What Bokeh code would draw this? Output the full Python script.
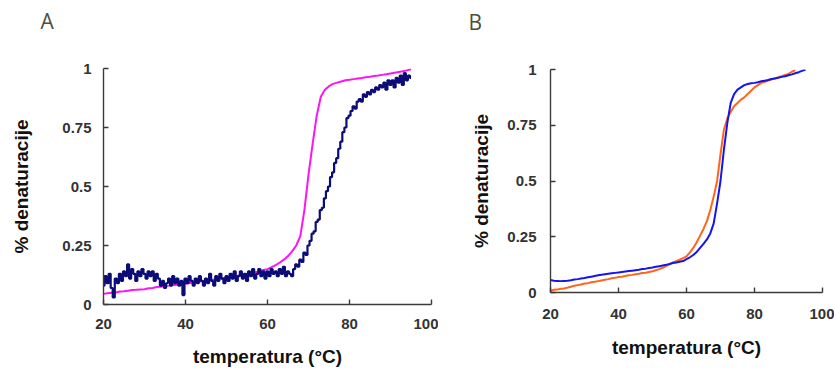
from bokeh.plotting import figure
from bokeh.layouts import row
from bokeh.models import Range1d, FixedTicker, CustomJSTickFormatter, Title
from bokeh.embed import file_html
from bokeh.resources import INLINE

# ---------------- data ----------------
x_ticks = [20, 40, 60, 80, 100]
y_ticks = [0, 0.25, 0.5, 0.75, 1]
x_title = "temperatura (°C)"
y_title = "% denaturacije"
panel_letters = ["A", "B"]

# Panel A, navy (noisy) - 0.5 °C sampling
a_navy_t = [20.0, 20.5, 21.0, 21.5, 22.0, 22.5, 23.0, 23.5, 24.0, 24.5, 25.0, 25.5, 26.0, 26.5, 27.0, 27.5,
            28.0, 28.5, 29.0, 29.5, 30.0, 30.5, 31.0, 31.5, 32.0, 32.5, 33.0, 33.5, 34.0, 34.5, 35.0, 35.5,
            36.0, 36.5, 37.0, 37.5, 38.0, 38.5, 39.0, 39.5, 40.0, 40.5, 41.0, 41.5, 42.0, 42.5, 43.0, 43.5,
            44.0, 44.5, 45.0, 45.5, 46.0, 46.5, 47.0, 47.5, 48.0, 48.5, 49.0, 49.5, 50.0, 50.5, 51.0, 51.5,
            52.0, 52.5, 53.0, 53.5, 54.0, 54.5, 55.0, 55.5, 56.0, 56.5, 57.0, 57.5, 58.0, 58.5, 59.0, 59.5,
            60.0, 60.5, 61.0, 61.5, 62.0, 62.5, 63.0, 63.5, 64.0, 64.5, 65.0, 65.5, 66.0, 66.5, 67.0, 67.5,
            68.0, 68.5, 69.0, 69.5, 70.0, 70.5, 71.0, 71.5, 72.0, 72.5, 73.0, 73.5, 74.0, 74.5, 75.0, 75.5,
            76.0, 76.5, 77.0, 77.5, 78.0, 78.5, 79.0, 79.5, 80.0, 80.5, 81.0, 81.5, 82.0, 82.5, 83.0, 83.5,
            84.0, 84.5, 85.0, 85.5, 86.0, 86.5, 87.0, 87.5, 88.0, 88.5, 89.0, 89.5, 90.0, 90.5, 91.0, 91.5,
            92.0, 92.5, 93.0, 93.5, 94.0, 94.5, 95.0]
a_navy_v = [0.08, 0.12, 0.09, 0.13, 0.07, 0.03, 0.11, 0.09, 0.13, 0.10, 0.14, 0.12, 0.17, 0.11, 0.15, 0.13,
            0.10, 0.14, 0.12, 0.15, 0.13,
            0.11, 0.14, 0.12, 0.14, 0.10, 0.13, 0.11, 0.08, 0.10, 0.07, 0.09, 0.11, 0.08, 0.12, 0.09, 0.11,
            0.08, 0.10, 0.04, 0.11,
            0.09, 0.12, 0.10, 0.08, 0.11, 0.09, 0.12, 0.10, 0.08, 0.11, 0.09, 0.13, 0.10, 0.08, 0.12, 0.10,
            0.13, 0.11, 0.09, 0.12,
            0.10, 0.13, 0.11, 0.14, 0.10, 0.12, 0.14, 0.11, 0.13, 0.10, 0.14, 0.12, 0.15, 0.11, 0.13, 0.15,
            0.12, 0.14, 0.11, 0.14,
            0.12, 0.15, 0.13, 0.14, 0.12, 0.15, 0.13, 0.16, 0.12, 0.14, 0.13, 0.12, 0.15, 0.17, 0.16, 0.19,
            0.18, 0.22, 0.21, 0.25,
            0.27, 0.30, 0.31, 0.35, 0.36, 0.40, 0.41, 0.45, 0.48, 0.50, 0.54, 0.56, 0.60, 0.62, 0.66, 0.69,
            0.73, 0.75, 0.79, 0.80,
            0.82, 0.84, 0.83, 0.86, 0.87, 0.86, 0.89, 0.88, 0.90, 0.89, 0.91, 0.90, 0.92, 0.91, 0.93, 0.92,
            0.94, 0.91, 0.95, 0.93,
            0.95, 0.92, 0.96, 0.94, 0.97, 0.93, 0.98, 0.95, 0.97, 0.96]

# Panel A, magenta - 1 °C sampling
a_mag_t = [20, 21, 22, 23, 24, 25, 26, 27, 28, 29, 30, 31, 32, 33, 34, 35, 36, 37, 38, 39, 40, 41, 42, 43,
           44, 45, 46, 47, 48, 49, 50, 51, 52, 53, 54, 55, 56, 57, 58, 59, 60, 61, 62, 63, 64, 65, 66, 67,
           68, 69, 70, 71, 72, 73, 74, 75, 76, 77, 78, 79, 80, 81, 82, 83, 84, 85, 86, 87, 88, 89, 90, 91,
           92, 93, 94, 95]
a_mag_v = [0.045, 0.048, 0.050, 0.051, 0.055, 0.056, 0.058, 0.061, 0.062, 0.064, 0.065, 0.069, 0.070, 0.074,
           0.075, 0.078, 0.080, 0.083, 0.084, 0.087, 0.088, 0.091, 0.093, 0.096, 0.098, 0.101, 0.103, 0.106,
           0.108, 0.111, 0.113, 0.117, 0.119, 0.123, 0.125, 0.129, 0.132, 0.137, 0.140, 0.146, 0.150, 0.158,
           0.167, 0.178, 0.190, 0.205, 0.225, 0.250, 0.290, 0.400, 0.550, 0.680, 0.800, 0.880, 0.910, 0.925,
           0.935, 0.940, 0.945, 0.950, 0.952, 0.955, 0.958, 0.960, 0.963, 0.965, 0.968, 0.970, 0.973, 0.976,
           0.979, 0.982, 0.985, 0.988, 0.992, 0.997]

# Panel B, orange
b_org_t = [20, 21, 22, 23, 24, 25, 26, 27, 28, 29, 30, 31, 32, 33, 34, 35, 36, 37, 38, 39, 40, 41, 42, 43,
           44, 45, 46, 47, 48, 49, 50, 51, 52, 53, 54, 55, 56, 57, 58, 59, 60, 61, 62, 63, 64, 65, 66, 67,
           68, 69, 70, 71, 72, 73, 74, 75, 76, 77, 78, 79, 80, 81, 82, 83, 84, 85, 86, 87, 88, 89, 90, 91,
           92]
b_org_v = [0.008, 0.012, 0.013, 0.017, 0.018, 0.022, 0.026, 0.030, 0.033, 0.036, 0.040, 0.042, 0.046, 0.048,
           0.051, 0.054, 0.057, 0.060, 0.064, 0.066, 0.069, 0.071, 0.074, 0.077, 0.079, 0.082, 0.084, 0.087,
           0.089, 0.092, 0.095, 0.100, 0.105, 0.111, 0.118, 0.126, 0.135, 0.141, 0.147, 0.154, 0.162, 0.180,
           0.200, 0.225, 0.255, 0.285, 0.320, 0.370, 0.430, 0.500, 0.620, 0.730, 0.780, 0.810, 0.835, 0.850,
           0.865, 0.875, 0.890, 0.905, 0.920, 0.930, 0.940, 0.945, 0.950, 0.955, 0.960, 0.965, 0.970, 0.975,
           0.980, 0.990, 0.997]

# Panel B, blue
b_blu_t = [20, 21, 22, 23, 24, 25, 26, 27, 28, 29, 30, 31, 32, 33, 34, 35, 36, 37, 38, 39, 40, 41, 42, 43,
           44, 45, 46, 47, 48, 49, 50, 51, 52, 53, 54, 55, 56, 57, 58, 59, 60, 61, 62, 63, 64, 65, 66, 67,
           68, 69, 70, 71, 72, 73, 74, 75, 76, 77, 78, 79, 80, 81, 82, 83, 84, 85, 86, 87, 88, 89, 90, 91,
           92, 93, 94, 95]
b_blu_v = [0.056, 0.053, 0.052, 0.051, 0.052, 0.053, 0.055, 0.058, 0.060, 0.063, 0.065, 0.068, 0.071, 0.074,
           0.077, 0.080, 0.082, 0.084, 0.086, 0.088, 0.090, 0.092, 0.094, 0.096, 0.098, 0.100, 0.102, 0.105,
           0.107, 0.110, 0.112, 0.115, 0.118, 0.121, 0.124, 0.128, 0.132, 0.135, 0.138, 0.141, 0.150, 0.158,
           0.168, 0.182, 0.200, 0.218, 0.238, 0.265, 0.310, 0.400, 0.500, 0.640, 0.760, 0.850, 0.890, 0.910,
           0.920, 0.930, 0.935, 0.938, 0.940, 0.943, 0.947, 0.950, 0.953, 0.957, 0.960, 0.963, 0.967, 0.970,
           0.974, 0.978, 0.983, 0.988, 0.994, 1.000]

TEXT_FONT = "Liberation Sans"
AXIS_COLOR = "#3a3a3a"


def make_panel(letter, width, height, bl, br, bt, bb, xstand, ystand,
               xlab_stand, ylab_stand, title_offset, spacer_stand):
    p = figure(width=width, height=height, output_backend="svg", toolbar_location=None,
               x_range=Range1d(20, 100), y_range=Range1d(0, 1),
               min_border_left=bl, min_border_right=br, min_border_top=bt, min_border_bottom=bb,
               title=None)
    if "frame_align" in p.properties():
        p.frame_align = False
    p.outline_line_color = None
    p.grid.visible = False
    p.background_fill_color = "white"
    p.border_fill_color = "white"
    # invisible spacer title (closest to the frame) pushes the letter to the top edge
    p.add_layout(Title(text=" ", text_font_size="1px", standoff=spacer_stand), "above")
    p.add_layout(Title(text=letter, text_font="Open Sans", text_font_size="21px",
                       text_font_style="normal", text_color="#4d4d40", align="left",
                       vertical_align="top", offset=title_offset, standoff=9), "above")
    for ax, ticks, stand in ((p.xaxis[0], x_ticks, xstand), (p.yaxis[0], y_ticks, ystand)):
        ax.ticker = FixedTicker(ticks=ticks)
        ax.major_tick_in = 5
        ax.major_tick_out = 0
        ax.minor_tick_line_color = None
        ax.axis_line_color = AXIS_COLOR
        ax.axis_line_width = 1.4
        ax.major_tick_line_color = AXIS_COLOR
        ax.major_tick_line_width = 1.4
        ax.major_label_text_font = TEXT_FONT
        ax.major_label_text_font_size = "15px"
        ax.major_label_text_font_style = "bold"
        ax.major_label_text_color = "#333333"
        ax.major_label_standoff = stand
        ax.axis_label_text_font = TEXT_FONT
        ax.axis_label_text_font_size = "19px"
        ax.axis_label_text_font_style = "bold"
        ax.axis_label_text_color = "#111111"
    p.xaxis[0].axis_label = x_title
    p.yaxis[0].axis_label = y_title
    p.xaxis[0].axis_label_standoff = xlab_stand
    p.yaxis[0].axis_label_standoff = ylab_stand
    p.yaxis[0].formatter = CustomJSTickFormatter(code="return String(tick);")
    return p


# Panel A: frame page x 103..431, y 68..304
pa = make_panel(panel_letters[0], 438, 369, 103, 7, 68, 65, 14, 12, 14, 27, -63, 24)
pa.line(a_mag_t, a_mag_v, line_color="#ff14f0", line_width=2)
pa.step(a_navy_t, a_navy_v, mode="center", line_color="#0c0c78", line_width=2.2)

# Panel B: frame page x 550..822, y 69..292
pb = make_panel(panel_letters[1], 396, 369, 112, 12, 69, 77, 16, 14, 15, 12, -82, 24)
pb.line(b_org_t, b_org_v, line_color="#ff6418", line_width=2)
pb.line(b_blu_t, b_blu_v, line_color="#1414f0", line_width=2)

layout = row(pa, pb)
open("out.html", "w").write(file_html(layout, INLINE))
